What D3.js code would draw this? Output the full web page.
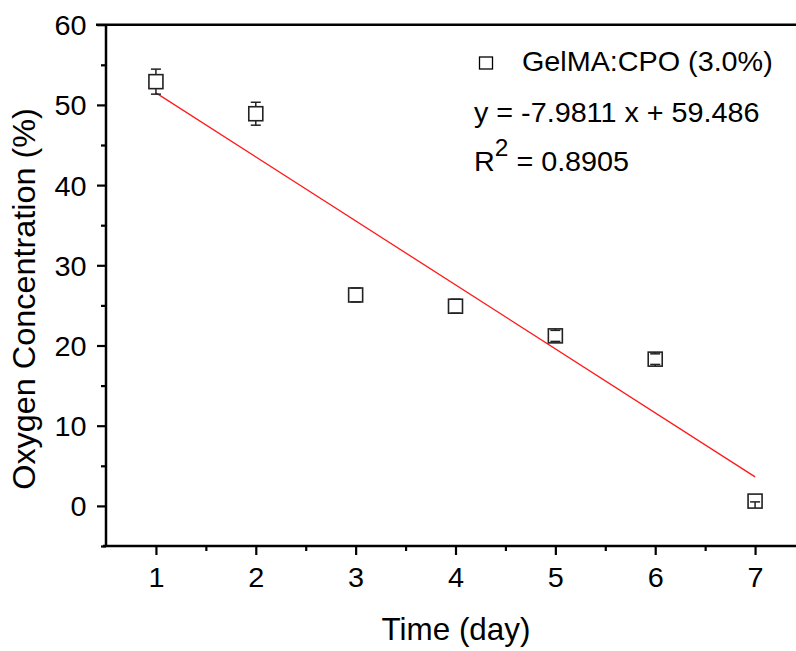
<!DOCTYPE html>
<html><head><meta charset="utf-8">
<script src="https://cdn.jsdelivr.net/npm/d3@7"></script>
<style>body{margin:0;background:#fff}svg{display:block}text{font-family:Arial,"Liberation Sans",sans-serif;fill:#000}</style>
</head><body><svg id="c" width="796" height="651"></svg>
<script>
const days = [1, 2, 3, 4, 5, 6, 7];
const oxygen = [52.9, 48.9, 26.3, 24.9, 21.2, 18.3, 0.6];
const errUp = [1.56, 1.43, 0.87, 0.87, 0.69, 0.66, 0];
const errDown = [1.56, 1.43, 0.87, 0.87, 0.69, 0.66, 0.1];
const xMajor = [1, 2, 3, 4, 5, 6, 7];
const xMinor = [1.5, 2.5, 3.5, 4.5, 5.5, 6.5];
const yMajor = [0, 10, 20, 30, 40, 50, 60];
const yMinor = [-5, 5, 15, 25, 35, 45, 55];
const fitSlope = -7.9811, fitIntercept = 59.486;
const legendLabel = "GelMA:CPO (3.0%)";
const eqLabel = "y = -7.9811 x + 59.486";
const r2Label = "0.8905";

const svg = d3.select("#c");
const x = d3.scaleLinear().domain([0.5, 7.5]).range([106, 805]);
const y = d3.scaleLinear().domain([-5, 60]).range([546, 24.7]);

// fit line
svg.append("line")
  .attr("x1", x(1)).attr("y1", y(fitSlope*1+fitIntercept))
  .attr("x2", x(7)).attr("y2", y(fitSlope*7+fitIntercept))
  .attr("stroke", "#ff1a1a").attr("stroke-width", 1.3);

// axes
const axisStroke = 2.5;
const tickFont = 28, tickSX = 1.03;
const gx = svg.append("g").attr("transform", `translate(0,${y(-5)})`)
  .call(d3.axisBottom(x).tickValues(xMajor).tickSize(9).tickFormat(d3.format("d")));
const gxm = svg.append("g").attr("transform", `translate(0,${y(-5)})`)
  .call(d3.axisBottom(x).tickValues(xMinor).tickSize(5).tickFormat(""));
const gy = svg.append("g").attr("transform", `translate(${x(0.5)},0)`)
  .call(d3.axisLeft(y).tickValues(yMajor).tickSize(9).tickFormat(d3.format("d")));
const gym = svg.append("g").attr("transform", `translate(${x(0.5)},0)`)
  .call(d3.axisLeft(y).tickValues(yMinor).tickSize(5).tickFormat(""));
[gx, gxm, gy, gym].forEach(g => {
  g.select(".domain").remove();
  g.selectAll(".tick line").attr("stroke", "#000").attr("stroke-width", 2.2);
  g.selectAll(".tick text").attr("font-size", tickFont).attr("font-family", "Arial, 'Liberation Sans', sans-serif")
    .attr("fill", "#000").attr("transform", `scale(${tickSX},1)`);
});
gx.selectAll(".tick text").attr("y", 12).attr("dy", "1.04em");
gy.selectAll(".tick text").attr("x", -19.5 / tickSX).attr("dy", "0.36em");

// axis lines
svg.append("line").attr("x1", 103).attr("x2", 796).attr("y1", y(-5)).attr("y2", y(-5)).attr("stroke", "#000").attr("stroke-width", axisStroke);
svg.append("line").attr("x1", x(0.5)).attr("x2", x(0.5)).attr("y1", y(60)).attr("y2", y(-5)+1).attr("stroke", "#000").attr("stroke-width", axisStroke);
svg.append("line").attr("x1", 96).attr("x2", 796).attr("y1", y(60)).attr("y2", y(60)).attr("stroke", "#000").attr("stroke-width", axisStroke);

// points with error bars
const half = 7, capW = 5;
const pts = svg.append("g");
days.forEach((d, i) => {
  const cx = x(d), cy = y(oxygen[i]);
  const col = "#222";
  if (errUp[i] > 0) {
    const yc = y(oxygen[i] + errUp[i]);
    pts.append("line").attr("x1", cx).attr("x2", cx).attr("y1", cy - half).attr("y2", yc).attr("stroke", col).attr("stroke-width", 1.5);
    pts.append("line").attr("x1", cx - capW).attr("x2", cx + capW).attr("y1", yc).attr("y2", yc).attr("stroke", col).attr("stroke-width", 1.5);
  }
  if (errDown[i] > 0) {
    const yc = y(oxygen[i] - errDown[i]);
    pts.append("line").attr("x1", cx).attr("x2", cx).attr("y1", cy + half).attr("y2", yc).attr("stroke", col).attr("stroke-width", 1.5);
    pts.append("line").attr("x1", cx - capW).attr("x2", cx + capW).attr("y1", yc).attr("y2", yc).attr("stroke", col).attr("stroke-width", 1.5);
  }
  pts.append("rect").attr("x", cx - half).attr("y", cy - half).attr("width", 2*half).attr("height", 2*half)
    .attr("fill", "none").attr("stroke", col).attr("stroke-width", 1.6);
});

// helper: horizontally stretched text
function stext(px, py, size, sx, anchor) {
  return svg.append("g").attr("transform", `translate(${px},${py}) scale(${sx},1)`)
    .append("text").attr("font-size", size).attr("text-anchor", anchor || "start");
}

// legend
const legFont = 27, legSX = 1.065;
svg.append("rect").attr("x", 479.5).attr("y", 57).attr("width", 13).attr("height", 12).attr("fill", "none").attr("stroke", "#000").attr("stroke-width", 1.3);
stext(522, 71, legFont, legSX).text(legendLabel);
stext(474, 122, legFont, legSX).text(eqLabel);
const r2 = stext(474, 171, legFont, legSX);
r2.append("tspan").text("R");
r2.append("tspan").attr("font-size", 23).attr("dy", -15).text("2");
r2.append("tspan").attr("dy", 15).text(" = " + r2Label);

// axis titles
stext(456, 640, 30.5, 1.03, "middle").text("Time (day)");
svg.append("g").attr("transform", "translate(35,299) rotate(-90) scale(1.045,1)")
  .append("text").attr("text-anchor", "middle").attr("font-size", 31).text("Oxygen Concentration (%)");
</script></body></html>
